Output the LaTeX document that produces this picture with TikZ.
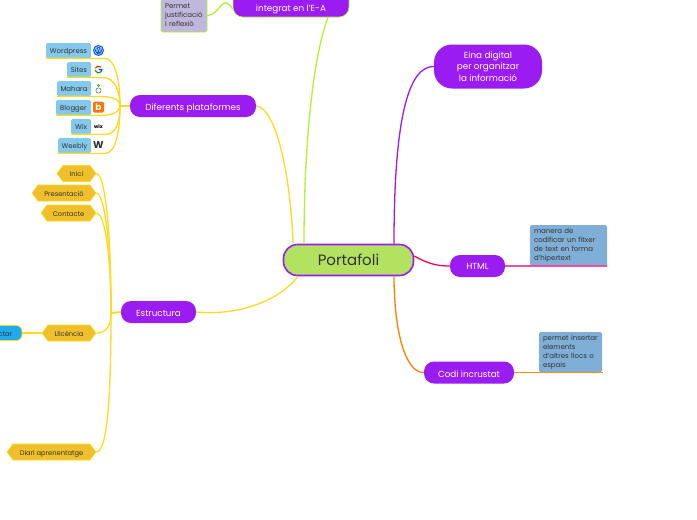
\documentclass[tikz,border=0pt]{standalone}
\usepackage{fontspec}
\setmainfont{Poppins}
\usepackage{xcolor}
\definecolor{mmpurple}{HTML}{9A1CF0}
\definecolor{mmlime}{HTML}{B3E260}
\definecolor{mmgreen}{HTML}{B4F02E}
\definecolor{mmyellow}{HTML}{FFD91C}
\definecolor{mmhex}{HTML}{EFC02B}
\definecolor{mmsky}{HTML}{84C9EC}
\definecolor{mmsteel}{HTML}{7FAFD6}
\definecolor{mmlilac}{HTML}{C0B8DC}
\definecolor{mmcyan}{HTML}{22AAEE}
\definecolor{mmink}{HTML}{333333}
\usetikzlibrary{shapes.symbols}
\tikzset{
  oneline/.style={text height=0.9em, text depth=0pt},
  smallline/.style={text height=0.65em, text depth=0pt},
  mainbox/.style={draw=mmpurple, line width=1.6pt, fill=mmlime, rounded corners=14pt, text=mmink,
    minimum width=130pt, minimum height=31pt, text height=1.1em, text depth=0pt, font=\fontsize{15}{18}\selectfont},
  branchbox/.style={fill=mmpurple, rounded corners=10pt, text=white, inner sep=0pt, align=center,
    font=\fontsize{8.8}{11.6}\selectfont},
  hexbox/.style={shape=signal, signal to=west and east, signal pointer angle=106, draw=mmyellow,
    line width=0.6pt, fill=mmhex, text=mmink, inner sep=0pt, minimum height=16pt, smallline,
    font=\fontsize{6.7}{8}\selectfont},
  platbox/.style={fill=mmsky, rounded corners=1.5pt, text=mmink, inner sep=0pt, minimum height=15pt, smallline,
    font=\fontsize{6.9}{8}\selectfont},
  notebox/.style={fill=mmsteel, rounded corners=1.5pt, text=mmink, inner xsep=4pt, inner ysep=0pt, align=left,
    font=\fontsize{7}{9}\selectfont},
  yline/.style={draw=mmyellow, line width=1.3pt},
  gline/.style={draw=mmgreen, line width=1.3pt},
}
\begin{document}
\begin{tikzpicture}[x=1pt, y=-1pt]
    \useasboundingbox (0,0) rectangle (697,520);
    \clip (0,0) rectangle (697,520);
    \coordinate (platjoin) at (120,106);
    \coordinate (estjoin) at (111,313);
    % arrel
    \node[mainbox] (port) at (348.5,260) {Portafoli};
    % branques
    \node[branchbox, minimum width=116pt, minimum height=32pt, draw=mmgreen, line width=0.6pt] (integrat) at (291,1) {~\\~\\integrat en l'E-A};
    \node[branchbox, minimum width=108pt, minimum height=44pt, rounded corners=18pt] (eina) at (488,66.5) {Eina digital\\per organitzar\\la informació};
    \node[branchbox, oneline, minimum width=126pt, minimum height=22pt] (plataformes) at (193,106) {Diferents plataformes};
    \node[branchbox, oneline, minimum width=75pt, minimum height=22pt] (estructura) at (158.5,312) {Estructura};
    \node[branchbox, smallline, minimum width=55pt, minimum height=22pt] (html) at (477.5,266) {HTML};
    \node[branchbox, oneline, minimum width=90pt, minimum height=22pt] (codi) at (469,372.5) {Codi incrustat};
    % notes
    \node[notebox, text width=69pt, minimum height=41pt] (manera) at (568.5,245.5) {manera de\\codificar un fitxer\\de text en forma\\d'hipertext};
    \node[notebox, text width=55pt, minimum height=40pt] (permet) at (570.5,352) {permet insertar\\elements\\d'altres llocs o\\espais};
    \node[notebox, fill=mmlilac, draw=mmgreen, line width=0.6pt, text width=38pt, minimum height=33pt] (justifica) at (184,15.5) {Permet\\justificació\\i reflexió};
    % plataformes
    \foreach \nm/\txt/\xa/\ya/\xb/\ca/\cb in {
      wordpress/Wordpress/68.5/50.5/105/115/80,
      sites/Sites/79/69.5/103/114/90,
      mahara/Mahara/74/88.5/100/114/100,
      blogger/Blogger/73.5/107.5/100/112/112,
      wix/Wix/81/126.5/105/117/120,
      weebly/Weebly/74.5/145.5/105/116/130} {
      \pgfmathsetmacro{\boxw}{2*(91-\xa)}
      \node[platbox, minimum width=\boxw pt] (\nm) at (\xa,\ya) {\txt};
      \draw[yline] (\nm.south west) -- (\xb,\ya+8) .. controls (\ca,\ya+8) and (120,\cb) .. (platjoin);
    }
    \draw[draw=mmyellow, line width=1.8pt] (platjoin) -- (plataformes.west);
    % icones
    \node[circle, fill=blue!60!cyan!85!black, text=white, inner sep=0pt, minimum size=11pt, font=\fontsize{6}{6}\selectfont] (iconwp) at (98.5,50.5) {W};
    \draw[white, line width=0.4pt] (iconwp) circle (4);
    \draw[red!75!orange, line width=1.1pt] (98.5,69.5) ++(-45:3.4) arc (-45:-160:3.4);
    \draw[yellow!80!orange, line width=1.1pt] (98.5,69.5) ++(-160:3.4) arc (-160:-200:3.4);
    \draw[green!60!black, line width=1.1pt] (98.5,69.5) ++(-200:3.4) arc (-200:-315:3.4);
    \draw[blue!70!cyan, line width=1.1pt] (98.5,69.5) ++(-315:3.4) arc (-315:-360:3.4) -- (98.5,69.5);
    \draw[gray!70!green, line width=0.7pt] (98.5,85.5) circle (1.2) (98.5,90.5) circle (2.6);
    \node[fill=orange!90!red, text=white, rounded corners=1.5pt, inner sep=0pt, minimum size=11pt, font=\fontsize{9}{9}\selectfont\bfseries] (iconblog) at (98.5,107) {b};
    \node[inner sep=0pt, text=black, font=\fontsize{5}{5}\selectfont\bfseries] (iconwix) at (98.5,126) {wix};
    \node[inner sep=0pt, text=mmink, font=\fontsize{10}{10}\selectfont\bfseries] (iconweebly) at (98.5,145) {W};
    % estructura
    \foreach \nm/\txt/\wa/\ya/\ca/\cb in {
      inici/Inici/39/173.5/104/220,
      presentacio/Presentació/64/193/104/240,
      contacte/Contacte/55/213/104/250,
      llicencia/Llicència/54/333/105/328,
      diari/Diari aprenentatge/89/452/107/400} {
      \pgfmathsetmacro{\xa}{96-\wa/2}
      \node[hexbox, minimum width=\wa pt] (\nm) at (\xa,\ya) {\txt};
      \draw[yline] (\nm.east) .. controls (\ca,\ya) and (111,\cb) .. (estjoin);
    }
    \draw[draw=mmyellow, line width=1.8pt] (estjoin) -- (estructura.west);
    \node[branchbox, smallline, fill=mmcyan, draw=mmyellow, line width=0.6pt, rounded corners=6pt, text=mmink, minimum width=50pt, minimum height=15pt, font=\fontsize{6.7}{8}\selectfont, text width=30pt, align=right] (ctar) at (-3,333) {ctar};
    \draw[yline] (ctar.east) -- (llicencia.west);
    % connexions
    \draw[gline] ([xshift=37pt]integrat.south) .. controls (312,60) and (304,150) .. ([xshift=-44.5pt]port.north);
    \draw[gline] (justifica.east) .. controls (220,15.5) and (222,-8) .. ([yshift=-8pt]integrat.west);
    \draw[yline] (plataformes.east) .. controls (277,108) and (291,180) .. ([xshift=-55.5pt]port.north);
    \draw[yline] (estructura.east) .. controls (240,316) and (280,300) .. ([xshift=-50.5pt]port.south);
    \draw[draw=mmpurple, line width=1.3pt] ([xshift=45.5pt]port.north) .. controls (394,120) and (408,66) .. (eina.west);
    \draw[draw=orange, line width=1.3pt] ([xshift=45.5pt]port.south) .. controls (394,330) and (405,373) .. (codi.west);
    \draw[draw=red!70!magenta, line width=1.3pt] ([yshift=4pt]port.east) .. controls (430,265) and (440,266) .. (html.west);
    \draw[draw=magenta!60!pink, line width=1.4pt] (html.east) -- (607,266);
    \draw[draw=orange!90!yellow, line width=1.3pt] (codi.east) -- (603,372.5);
\end{tikzpicture}
\end{document}
